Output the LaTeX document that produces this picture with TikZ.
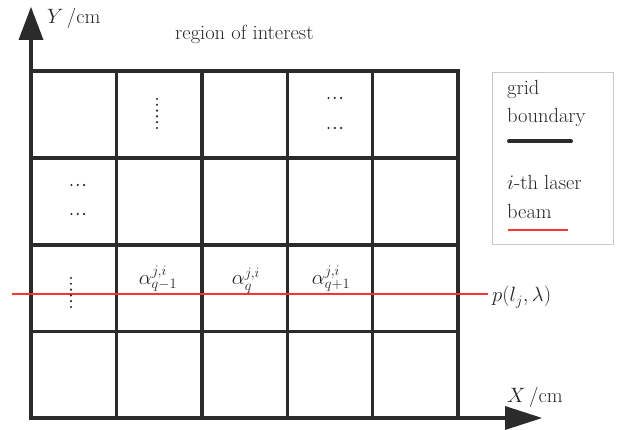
\documentclass[tikz,border=0pt]{standalone}
\definecolor{gridc}{HTML}{2B2B2B}
\definecolor{beamc}{HTML}{FF3333}
\definecolor{boxc}{HTML}{C8C8C8}
\begin{document}
\begin{tikzpicture}[x=1pt,y=-1pt,
  gridline/.style={line width=3.4pt, draw=gridc, line cap=rect},
  axisline/.style={line width=3.4pt, draw=gridc},
  beamline/.style={color=beamc, line width=1.1pt},
  lbl/.style={font=\fontsize{20.5}{24}\selectfont, inner sep=0pt, anchor=base west, text=black!85},
  alab/.style={font=\fontsize{21}{24}\selectfont, inner sep=0pt, anchor=base, text=black!85},
  dotc/.style={fill=black!85}]
\useasboundingbox (0,0) rectangle (619,430);
% grid
\foreach \x in {116.4,201.8,287.2,372.6,458} \draw[gridline] (\x,71) -- (\x,418);
\foreach \y in {71,158,245,331.5} \draw[gridline] (31,\y) -- (458,\y);
% axes
\coordinate (O) at (31,418);
\coordinate (ybase) at (31,40);
\coordinate (ytip) at (31,7);
\coordinate (xbase) at (505,418);
\coordinate (xtip) at (542,418);
\draw[axisline] (O) -- (ybase);
\draw[axisline] ([xshift=-1.7pt]O) -- (xbase);
\fill[gridc] (ytip) -- ([xshift=-12.5pt]ybase) -- ([xshift=12.5pt]ybase) -- cycle;
\fill[gridc] (xtip) -- ([yshift=12pt]xbase) -- ([yshift=-12pt]xbase) -- cycle;
% beam
\coordinate (b1) at (12,294);
\coordinate (b2) at (488,294);
\draw[beamline] (b1) -- (b2);
% labels
\node[lbl] (ylab) at (47,24) {$Y$\,/cm};
\node[lbl] (roi) at (175,40) {region of interest};
\node[lbl] (xlab) at (507,403) {$X$\,/cm};
\node[lbl] (plab) at (492,302) {$p(l_j,\lambda)$};
% alphas
\node[alab] (a1) at (158,285) {$\alpha^{j,i}_{q-1}$};
\node[alab] (a2) at (246,285) {$\alpha^{j,i}_{q}$};
\node[alab] (a3) at (331,285) {$\alpha^{j,i}_{q+1}$};
% dots
\foreach \k in {0,...,5} \fill[dotc] (157,99+\k*5.8) circle (1.2pt);
\foreach \k in {0,...,5} \fill[dotc] (71,278+\k*5.8) circle (1.2pt);
\foreach \k in {0,1,2} {
  \fill[dotc] (328.5+\k*6.3,98) circle (1.2pt);
  \fill[dotc] (328.5+\k*6.3,128) circle (1.2pt);
  \fill[dotc] (71.5+\k*6.3,185) circle (1.2pt);
  \fill[dotc] (71.5+\k*6.3,214) circle (1.2pt);
}
% legend
\draw[draw=boxc, line width=1pt] (492.5,73) rectangle (613,244.5);
\node[lbl] (lg1) at (507,95) {grid};
\node[lbl] (lg2) at (507,123) {boundary};
\draw[gridc, line width=4pt, line cap=round] (509,141.5) -- (571,141.5);
\node[lbl] (lg3) at (507,190) {$i$-th laser};
\node[lbl] (lg4) at (507,219) {beam};
\draw[beamline] (508,230) -- (568,230);
\end{tikzpicture}
\end{document}
